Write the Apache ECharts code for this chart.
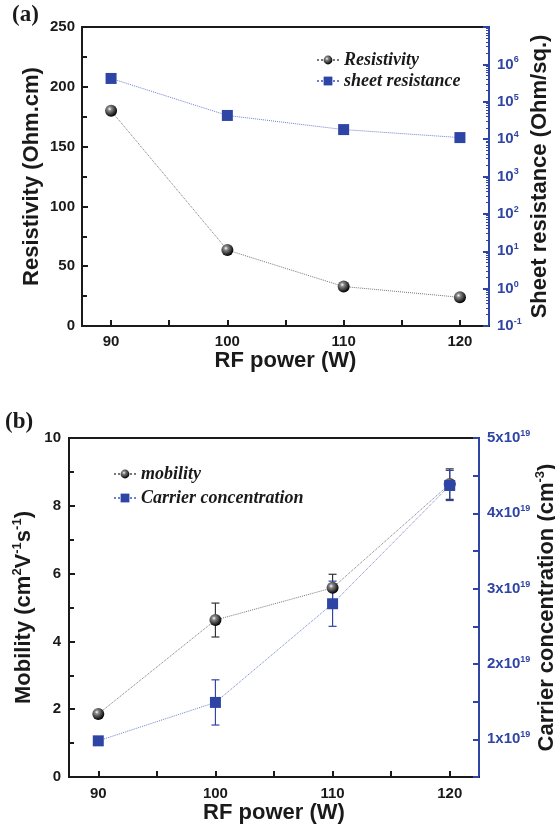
<!DOCTYPE html>
<html>
<head>
<meta charset="utf-8">
<script src="https://cdn.jsdelivr.net/npm/echarts@6/dist/echarts.min.js"></script>
<style>
  html, body { margin: 0; padding: 0; background: #fff; }
  #main { width: 555px; height: 837px; }
</style>
</head>
<body>
<div id="main"></div>
<script>
// RF power (W)
var power = [90, 100, 110, 120];
// (a)
var resistivity = [180, 63.5, 33, 24];          // Ohm.cm
var sheetRes = [4.2e5, 4.3e4, 1.8e4, 1.1e4];     // Ohm/sq.
// (b)
var mobility = [1.86, 4.63, 5.58, 8.64];         // cm2/Vs
var mobilityErr = [0, 0.5, 0.4, 0.45];
var carrier = [0.98, 1.49, 2.80, 4.37];          // x10^19 cm-3
var carrierErr = [0, 0.3, 0.3, 0.2];

var xTicks = [90, 95, 100, 105, 110, 115, 120];
var xLabels = [90, 100, 110, 120];
var carrierLabels = [1, 2, 3, 4, 5];

var blue = '#2f45a6';
var dark = '#1a1a1a';
var sans = 'Liberation Sans';
var serif = 'Liberation Serif';

var chart = echarts.init(document.getElementById('main'), null, { renderer: 'canvas' });

function pairs(xs, ys) {
  var out = [];
  for (var i = 0; i < xs.length; i++) out.push([xs[i], ys[i]]);
  return out;
}
function errData(xs, ys, es) {
  var out = [];
  for (var i = 0; i < xs.length; i++) {
    if (es[i] > 0) out.push([xs[i], ys[i] - es[i], ys[i] + es[i]]);
  }
  return out;
}
function errRender(color) {
  return function (params, api) {
    var top = api.coord([api.value(0), api.value(2)]);
    var bot = api.coord([api.value(0), api.value(1)]);
    var st = { stroke: color, lineWidth: 1.2 };
    return {
      type: 'group',
      children: [
        { type: 'line', shape: { x1: top[0], y1: top[1], x2: bot[0], y2: bot[1] }, style: st },
        { type: 'line', shape: { x1: top[0] - 4, y1: top[1], x2: top[0] + 4, y2: top[1] }, style: st },
        { type: 'line', shape: { x1: bot[0] - 4, y1: bot[1], x2: bot[0] + 4, y2: bot[1] }, style: st }
      ]
    };
  };
}

var sphere = {
  type: 'radial', x: 0.38, y: 0.35, r: 0.65,
  colorStops: [
    { offset: 0, color: '#ffffff' },
    { offset: 0.25, color: '#888888' },
    { offset: 1, color: '#000000' }
  ]
};

function xAxisOf(gridIndex, gap, margin) {
  return {
    type: 'value',
    gridIndex: gridIndex,
    min: 87.5,
    max: 122.5,
    name: 'RF power (W)',
    nameLocation: 'middle',
    nameGap: gap,
    nameMoveOverlap: false,
    nameTextStyle: { fontFamily: sans, fontWeight: 'bold', fontSize: 22, color: dark },
    axisLine: { show: true, lineStyle: { color: dark, width: 2 } },
    axisTick: { show: true, inside: true, length: 6, customValues: xTicks, lineStyle: { color: dark, width: 2 } },
    axisLabel: {
      customValues: xLabels, margin: margin,
      fontFamily: sans, fontWeight: 'bold', fontSize: 15, color: dark
    },
    splitLine: { show: false }
  };
}

var supRich = {
  b: { fontFamily: sans, fontWeight: 'bold', fontSize: 15, color: blue },
  s: { fontFamily: sans, fontWeight: 'bold', fontSize: 9, color: blue, padding: [0, 0, 9, 0] }
};

var option = {
  animation: false,
  backgroundColor: '#fff',
  graphic: [
    { type: 'text', left: 12, top: 4, style: { text: '(a)', font: 'bold 23px "Liberation Serif"', fill: dark } },
    { type: 'text', left: 5, top: 411, style: { text: '(b)', font: 'bold 23px "Liberation Serif"', fill: dark } }
  ],
  grid: [
    { left: 82, top: 27, width: 407, height: 299, show: true, borderColor: dark, borderWidth: 2, outerBoundsMode: 'none', containLabel: false },
    { left: 69, top: 438, width: 410, height: 339, show: true, borderColor: dark, borderWidth: 2, outerBoundsMode: 'none', containLabel: false }
  ],
  legend: [
    {
      left: 316, top: 51, padding: 0, orient: 'vertical', itemGap: 3, itemWidth: 22, itemHeight: 11,
      data: ['Resistivity', 'sheet resistance'],
      textStyle: { fontFamily: serif, fontStyle: 'italic', fontWeight: 'bold', fontSize: 18, color: dark }
    },
    {
      left: 113, top: 465, padding: 0, orient: 'vertical', itemGap: 6, itemWidth: 22, itemHeight: 11,
      data: ['mobility', 'Carrier concentration'],
      textStyle: { fontFamily: serif, fontStyle: 'italic', fontWeight: 'bold', fontSize: 18, color: dark }
    }
  ],
  xAxis: [xAxisOf(0, 24, 8), xAxisOf(1, 25, 9)],
  yAxis: [
    {
      type: 'value', gridIndex: 0, min: 0, max: 250, interval: 50,
      name: 'Resistivity (Ohm.cm)', nameLocation: 'middle', nameGap: 39, nameMoveOverlap: false,
      nameTextStyle: { fontFamily: sans, fontWeight: 'bold', fontSize: 22, color: dark },
      axisLine: { show: true, lineStyle: { color: dark, width: 2 } },
      axisTick: { inside: true, length: 6, lineStyle: { color: dark, width: 2 } },
      minorTick: { show: true, splitNumber: 2, length: 5, lineStyle: { color: dark, width: 2 } },
      axisLabel: { margin: 7, fontFamily: sans, fontWeight: 'bold', fontSize: 15, color: dark },
      splitLine: { show: false }
    },
    {
      type: 'log', logBase: 10, gridIndex: 0, min: 0.1, max: 1e7, position: 'right',
      name: 'Sheet resistance (Ohm/sq.)', nameLocation: 'middle', nameGap: 40, nameRotate: 90, nameMoveOverlap: false,
      nameTextStyle: { fontFamily: sans, fontWeight: 'bold', fontSize: 22, color: dark },
      axisLine: { show: true, lineStyle: { color: blue, width: 2 } },
      axisTick: { inside: true, length: 6, lineStyle: { color: blue, width: 2 } },
      minorTick: { show: true, splitNumber: 9, length: 3, lineStyle: { color: blue, width: 1 } },
      axisLabel: {
        margin: 8,
        formatter: function (v) {
          var e = Math.round(Math.log10(v));
          if (e >= 7) return '';
          return '{b|10}{s|' + e + '}';
        },
        rich: supRich
      },
      splitLine: { show: false }
    },
    {
      type: 'value', gridIndex: 1, min: 0, max: 10, interval: 2,
      name: '{a|Mobility (cm}{s|2}{a|V}{s|-1}{a|s}{s|-1}{a|)}', nameLocation: 'middle', nameGap: 33, nameMoveOverlap: false,
      nameTextStyle: {
        rich: {
          a: { fontFamily: sans, fontWeight: 'bold', fontSize: 22, color: dark },
          s: { fontFamily: sans, fontWeight: 'bold', fontSize: 13, color: dark, padding: [0, 0, 12, 0] }
        }
      },
      axisLine: { show: true, lineStyle: { color: dark, width: 2 } },
      axisTick: { inside: true, length: 6, lineStyle: { color: dark, width: 2 } },
      minorTick: { show: true, splitNumber: 2, length: 5, lineStyle: { color: dark, width: 2 } },
      axisLabel: { margin: 8, fontFamily: sans, fontWeight: 'bold', fontSize: 15, color: dark },
      splitLine: { show: false }
    },
    {
      type: 'value', gridIndex: 1, min: 0.5, max: 5, interval: 0.5, position: 'right',
      name: '{a|Carrier concentration (cm}{s|-3}{a|)}', nameLocation: 'middle', nameGap: 55, nameRotate: 90, nameMoveOverlap: false,
      nameTextStyle: {
        rich: {
          a: { fontFamily: sans, fontWeight: 'bold', fontSize: 22, color: dark },
          s: { fontFamily: sans, fontWeight: 'bold', fontSize: 13, color: dark, padding: [0, 0, 12, 0] }
        }
      },
      axisLine: { show: true, lineStyle: { color: blue, width: 2 } },
      axisTick: { inside: true, length: 6, lineStyle: { color: blue, width: 2 } },
      axisLabel: {
        margin: 8, customValues: carrierLabels,
        formatter: function (v) { return '{b|' + Math.round(v) + 'x10}{s|19}'; },
        rich: supRich
      },
      splitLine: { show: false }
    }
  ],
  series: [
    {
      name: 'Resistivity', type: 'line', xAxisIndex: 0, yAxisIndex: 0,
      data: pairs(power, resistivity),
      symbol: 'circle', symbolSize: 12,
      itemStyle: { color: sphere, borderWidth: 0 },
      lineStyle: { color: '#777', width: 1, type: 'dotted' },
      z: 3
    },
    {
      name: 'sheet resistance', type: 'line', xAxisIndex: 0, yAxisIndex: 1,
      data: pairs(power, sheetRes),
      symbol: 'rect', symbolSize: 11,
      itemStyle: { color: blue },
      lineStyle: { color: '#6f7fcf', width: 1, type: 'dotted' },
      z: 3
    },
    {
      type: 'custom', xAxisIndex: 1, yAxisIndex: 2,
      data: errData(power, mobility, mobilityErr),
      renderItem: errRender('#333'), z: 2
    },
    {
      type: 'custom', xAxisIndex: 1, yAxisIndex: 3,
      data: errData(power, carrier, carrierErr),
      renderItem: errRender(blue), z: 2
    },
    {
      name: 'mobility', type: 'line', xAxisIndex: 1, yAxisIndex: 2,
      data: pairs(power, mobility),
      symbol: 'circle', symbolSize: 12,
      itemStyle: { color: sphere, borderWidth: 0 },
      lineStyle: { color: '#777', width: 1, type: 'dotted' },
      z: 3
    },
    {
      name: 'Carrier concentration', type: 'line', xAxisIndex: 1, yAxisIndex: 3,
      data: pairs(power, carrier),
      symbol: 'rect', symbolSize: 11,
      itemStyle: { color: blue },
      lineStyle: { color: '#6f7fcf', width: 1, type: 'dotted' },
      z: 4
    }
  ]
};

chart.setOption(option);
</script>
</body>
</html>
